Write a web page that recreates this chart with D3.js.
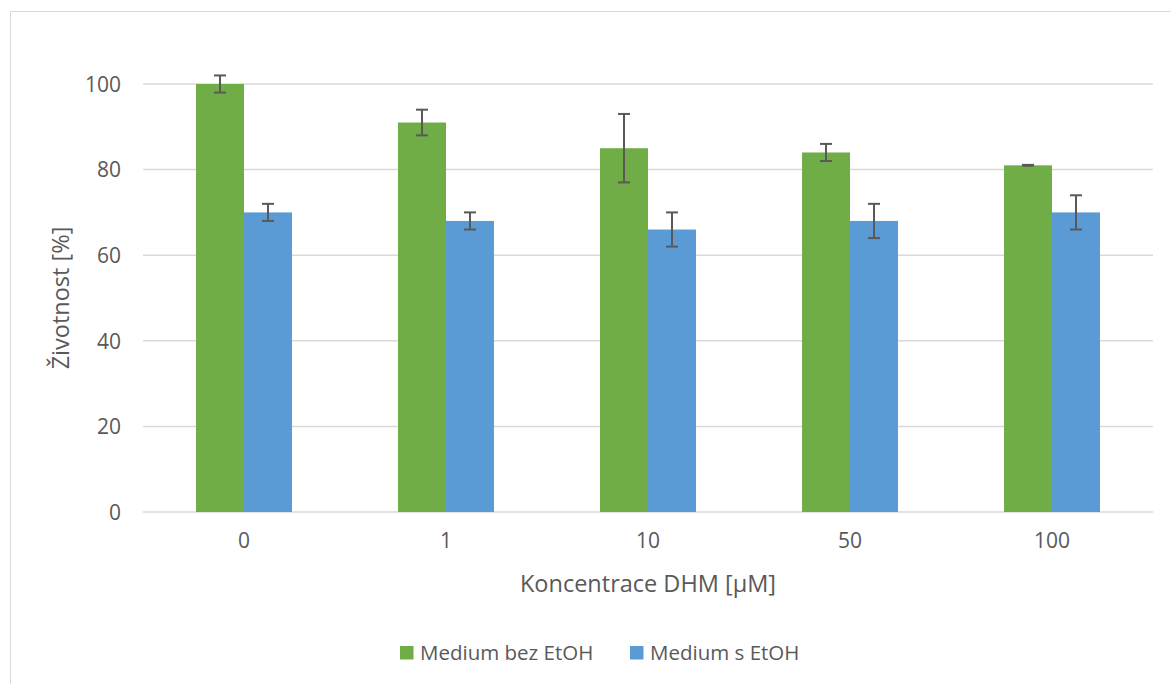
<!DOCTYPE html>
<html><head><meta charset="utf-8">
<script src="https://cdnjs.cloudflare.com/ajax/libs/d3/7.8.5/d3.min.js"></script>
<style>body{margin:0;background:#fff}svg{display:block}text{font-family:"Open Sans",sans-serif;fill:#595959}</style>
</head><body><svg id="c" width="1171" height="684"></svg>
<script>
const categories = ["0","1","10","50","100"];
const seriesNames = ["Medium bez EtOH","Medium s EtOH"];
const greenValues = [100,91,85,84,81];
const greenErrors = [2,3,8,2,0.1];
const blueValues = [70,68,66,68,70];
const blueErrors = [2,2,4,4,4];
const yTicks = [0,20,40,60,80,100];
const colors = ["#70AD47","#5B9BD5"];

const series = [
  {name:seriesNames[0], values:greenValues, errors:greenErrors, color:colors[0]},
  {name:seriesNames[1], values:blueValues, errors:blueErrors, color:colors[1]}
];

const svg = d3.select("#c");
svg.append("rect").attr("x",10.5).attr("y",11.5).attr("width",1200).attr("height",700)
  .attr("fill","#fff").attr("stroke","#d9d9d9").attr("stroke-width",1);

const pLeft=143, pRight=1153, pTop=84, pBottom=512;
const y = d3.scaleLinear().domain([0,100]).range([pBottom,pTop]);
const x0 = d3.scaleBand().domain(categories).range([pLeft,pRight]).paddingInner(0.525).paddingOuter(0.2625);
const x1 = d3.scaleBand().domain([0,1]).range([0,x0.bandwidth()]);

// gridlines
svg.append("g").selectAll("line").data(yTicks).join("line")
  .attr("x1",pLeft).attr("x2",pRight).attr("y1",d=>y(d)).attr("y2",d=>y(d))
  .attr("stroke","#d9d9d9").attr("stroke-width",1.5);

// y axis labels
const yAxis = d3.axisLeft(y).tickValues(yTicks).tickSize(0).tickPadding(22);
const yg = svg.append("g").attr("transform",`translate(${pLeft},0)`).call(yAxis);
yg.select(".domain").remove();
yg.selectAll("text").style("font-size","21px").attr("fill","#595959").attr("dy","0.35em");

// x axis labels
const xAxis = d3.axisBottom(x0).tickSize(0).tickPadding(21);
const xg = svg.append("g").attr("transform",`translate(0,${pBottom})`).call(xAxis);
xg.select(".domain").remove();
xg.selectAll("text").style("font-size","21px").attr("fill","#595959");

// bars
const groups = svg.append("g").selectAll("g").data(categories).join("g")
  .attr("transform",d=>`translate(${x0(d)},0)`);
series.forEach((s,si)=>{
  groups.append("rect")
    .attr("x",x1(si)).attr("width",x1.bandwidth())
    .attr("y",(d,i)=>y(s.values[i])).attr("height",(d,i)=>pBottom-y(s.values[i]))
    .attr("fill",s.color);
});
// error bars
series.forEach((s,si)=>{
  const cx = x1(si)+x1.bandwidth()/2;
  const eg = groups.append("g").attr("stroke","#595959").attr("stroke-width",2);
  eg.append("line").attr("x1",cx).attr("x2",cx)
    .attr("y1",(d,i)=>y(s.values[i]+s.errors[i])).attr("y2",(d,i)=>y(s.values[i]-s.errors[i]));
  eg.append("line").attr("x1",cx-6).attr("x2",cx+6)
    .attr("y1",(d,i)=>y(s.values[i]+s.errors[i])).attr("y2",(d,i)=>y(s.values[i]+s.errors[i]));
  eg.append("line").attr("x1",cx-6).attr("x2",cx+6)
    .attr("y1",(d,i)=>y(s.values[i]-s.errors[i])).attr("y2",(d,i)=>y(s.values[i]-s.errors[i]));
});

// axis titles
svg.append("text").attr("x",(pLeft+pRight)/2).attr("y",592).attr("text-anchor","middle")
  .style("font-size","23.5px").text("Koncentrace DHM [µM]");
svg.append("text").attr("transform",`translate(69,${(pTop+pBottom)/2}) rotate(-90)`).attr("text-anchor","middle")
  .style("font-size","23.5px").text("Životnost [%]");

// legend
const legX = [400,630];
series.forEach((s,si)=>{
  svg.append("rect").attr("x",legX[si]).attr("y",646).attr("width",13.5).attr("height",13.5).attr("fill",s.color);
  svg.append("text").attr("x",legX[si]+20).attr("y",659.5).style("font-size","20.5px").text(s.name);
});
</script></body></html>
